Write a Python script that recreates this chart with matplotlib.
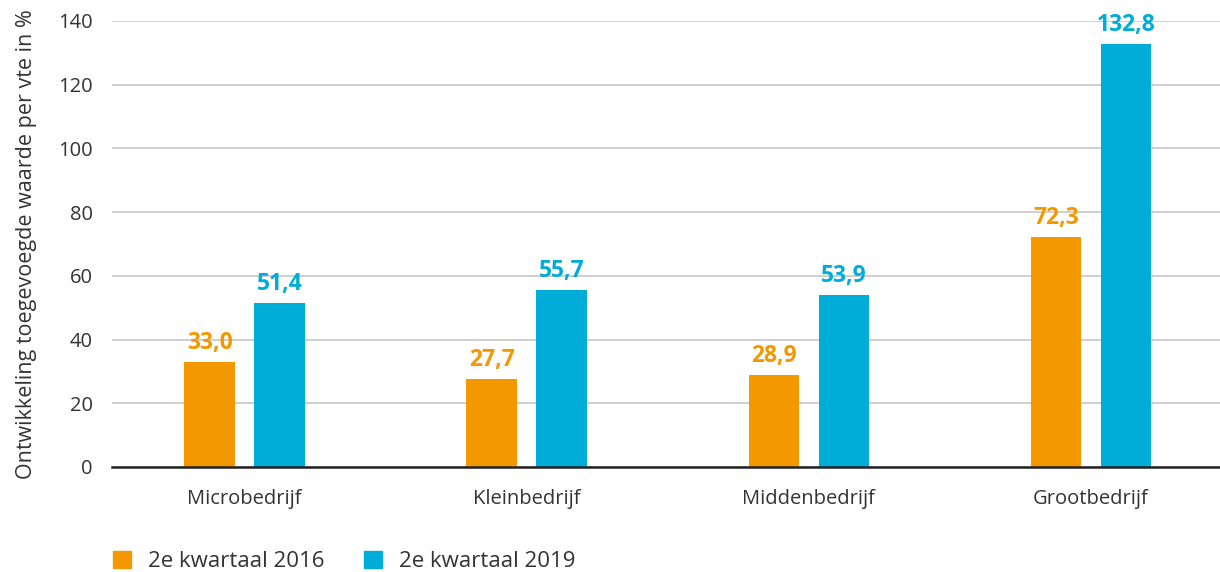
import matplotlib
matplotlib.use("Agg")
import matplotlib.pyplot as plt
from matplotlib.patches import Patch
import numpy as np

plt.rcParams['font.family'] = ['Open Sans', 'DejaVu Sans']

# data
categories = ["Microbedrijf", "Kleinbedrijf", "Middenbedrijf", "Grootbedrijf"]
q2_2016 = [33.0, 27.7, 28.9, 72.3]
q2_2019 = [51.4, 55.7, 53.9, 132.8]
series_names = ["2e kwartaal 2016", "2e kwartaal 2019"]

orange = "#F39800"
blue = "#00ACD8"
txt = "#333333"

fig = plt.figure(figsize=(12.2, 5.72), dpi=100)
ax = fig.add_axes([0.0918, 0.1836, 0.9082, 0.7797])

x = np.arange(len(categories))
w = 0.18
off = 0.124
b1 = ax.bar(x - off, q2_2016, w, color=orange, zorder=3)
b2 = ax.bar(x + off, q2_2019, w, color=blue, zorder=3)

def fmt(v):
    return f"{v:.1f}".replace(".", ",")

for bars, vals, c in [(b1, q2_2016, orange), (b2, q2_2019, blue)]:
    for r, v in zip(bars, vals):
        ax.annotate(fmt(v), (r.get_x() + r.get_width() / 2, v), xytext=(0, 5),
                    textcoords="offset points", ha="center", va="bottom",
                    color=c, fontsize=16.5, fontweight="bold")

ax.set_ylim(0, 140)
ax.set_xlim(-0.47, 3.457)
ax.set_yticks(range(0, 141, 20))
ax.set_xticks(x)
ax.set_xticklabels(categories)
ax.yaxis.grid(True, color="#CCCCCC", linewidth=1.3, zorder=0)
ax.set_axisbelow(True)
for s in ["top", "right", "left"]:
    ax.spines[s].set_visible(False)
ax.spines["bottom"].set_color("#222222")
ax.spines["bottom"].set_linewidth(1.8)
ax.spines["bottom"].set_zorder(4)
ax.tick_params(axis="both", length=0, labelsize=14.5, colors=txt)
ax.tick_params(axis="y", pad=14)
ax.tick_params(axis="x", pad=16)
ax.set_ylabel("Ontwikkeling toegevoegde waarde per vte in %", fontsize=15.5, color=txt,
              va="center")
ax.yaxis.set_label_coords(-0.0776, 0.5)

handles = [Patch(color=orange), Patch(color=blue)]
fig.legend(handles, series_names, loc="lower left", bbox_to_anchor=(0.0765, -0.035), ncol=2,
           frameon=False, fontsize=16, handlelength=0.8, handleheight=0.8,
           columnspacing=1.8, handletextpad=0.75, labelcolor=txt)

fig.savefig("out.png", dpi=100)
